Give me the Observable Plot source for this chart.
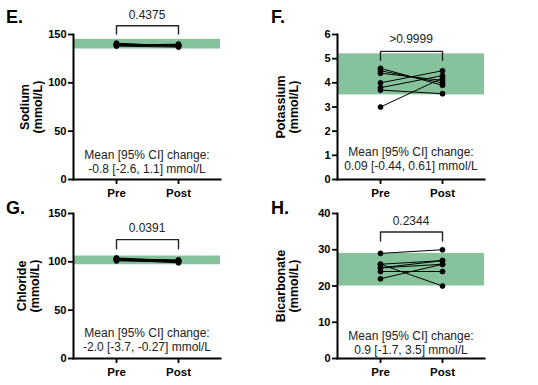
<!DOCTYPE html>
<html>
<head>
<meta charset="utf-8">
<script src="https://cdn.jsdelivr.net/npm/d3@7"></script>
<script src="https://cdn.jsdelivr.net/npm/@observablehq/plot@0.6"></script>
<style>
  html, body { margin: 0; padding: 0; background: #fff; }
  #root { position: relative; width: 538px; height: 385px; overflow: hidden; font-family: "Liberation Sans", Arial, sans-serif; }
  .panel { position: absolute; }
  .letter { position: absolute; font-weight: bold; font-size: 18px; font-family: "Liberation Sans", Arial, sans-serif; }
</style>
</head>
<body>
<div id="root"></div>
<script>
// ---- Data ----
const times = ["Pre", "Post"];

const sodiumPre  = [140, 139, 140, 139, 141, 138, 139];
const sodiumPost = [139, 139, 139, 140, 138, 137, 138];
const sodiumRange = [135, 145];
const sodiumTicks = [0, 50, 100, 150];

const potassiumPre  = [4.6, 4.5, 4.4, 4.0, 3.8, 3.7, 3.0];
const potassiumPost = [3.9, 4.0, 4.1, 4.5, 4.3, 3.55, 4.2];
const potassiumRange = [3.5, 5.2];
const potassiumTicks = [0, 1, 2, 3, 4, 5, 6];

const chloridePre  = [103, 102, 104, 103, 102, 103, 101];
const chloridePost = [101, 100, 101, 102, 99, 101, 100];
const chlorideRange = [97, 106];
const chlorideTicks = [0, 50, 100, 150];

const bicarbPre  = [29, 26, 26, 25, 25, 24, 22];
const bicarbPost = [30, 20, 27, 26, 27, 24, 26];
const bicarbRange = [20, 29];
const bicarbTicks = [0, 10, 20, 30, 40];

const pValues = ["0.4375", ">0.9999", "0.0391", "0.2344"];
const notes = [
  "Mean [95% CI] change:\n-0.8 [-2.6, 1.1] mmol/L",
  "Mean [95% CI] change:\n0.09 [-0.44, 0.61] mmol/L",
  "Mean [95% CI] change:\n-2.0 [-3.7, -0.27] mmol/L",
  "Mean [95% CI] change:\n0.9 [-1.7, 3.5] mmol/L"
];
const yTitles = ["Sodium\n(mmol/L)", "Potassium\n(mmol/L)", "Chloride\n(mmol/L)", "Bicarbonate\n(mmol/L)"];
const letters = ["E.", "F.", "G.", "H."];

// ---- Panel specs (layout) ----
const panels = [
  {pre: sodiumPre, post: sodiumPost, range: sodiumRange, ticks: sodiumTicks, max: 150, bracket: 159, leg: 150.5, pText: 169.5, noteDy: -7, left: 0, top: 0, titleDx: -42},
  {pre: potassiumPre, post: potassiumPost, range: potassiumRange, ticks: potassiumTicks, max: 6, bracket: 5.3, leg: 4.93, pText: 5.8, noteDy: -10, left: 264, top: 0, titleDx: -50},
  {pre: chloridePre, post: chloridePost, range: chlorideRange, ticks: chlorideTicks, max: 150, bracket: 123, leg: 113.5, pText: 135, noteDy: -8, left: 0, top: 179, titleDx: -45},
  {pre: bicarbPre, post: bicarbPost, range: bicarbRange, ticks: bicarbTicks, max: 40, bracket: 34.9, leg: 32.4, pText: 38, noteDy: -5, left: 264, top: 179, titleDx: -50}
];

const root = document.getElementById("root");
const letterPos = [[6, 7], [271, 7], [6, 198], [271, 198]];

panels.forEach((p, i) => {
  const rows = [];
  p.pre.forEach((v, k) => { rows.push({id: k, t: times[0], v}); rows.push({id: k, t: times[1], v: p.post[k]}); });
  const bracket = [
    {t: times[0], v: p.leg}, {t: times[0], v: p.bracket},
    {t: times[1], v: p.bracket}, {t: times[1], v: p.leg}
  ];
  const chart = Plot.plot({
    width: 230,
    height: 200,
    marginTop: 34,
    marginBottom: 21,
    marginLeft: 73,
    marginRight: 10,
    style: {fontFamily: "'Liberation Sans', Arial, sans-serif", overflow: "visible", background: "transparent"},
    x: {type: "point", domain: times, padding: 0.667},
    y: {domain: [0, p.max]},
    marks: [
      Plot.rect([p.range], {y1: d => d[0], y2: d => d[1], fill: "#86c29b"}),
      Plot.line(rows, {x: "t", y: "v", z: "id", stroke: "black", strokeWidth: 1}),
      Plot.dot(rows, {x: "t", y: "v", r: 2.6, fill: "black", stroke: "black", strokeWidth: 0.5}),
      Plot.line(bracket, {x: "t", y: "v", stroke: "#222", strokeWidth: 1.4, clip: false}),
      Plot.text([pValues[i]], {y: () => p.pText, text: d => d, fontSize: 12, fill: "#222", clip: false}),
      Plot.text([notes[i]], {frameAnchor: "bottom", lineAnchor: "bottom", dy: p.noteDy, text: d => d, fontSize: 12, lineHeight: 1.1, fill: "#222"}),
      Plot.text([yTitles[i]], {frameAnchor: "left", textAnchor: "middle", lineAnchor: "middle", rotate: -90, dx: p.titleDx, text: d => d, fontSize: 12.5, fontWeight: "bold", lineHeight: 1.0, fill: "black"}),
      Plot.axisY({ticks: p.ticks, tickFormat: d3.format("d"), tickSize: 5, tickPadding: 2, fontSize: 11, fontWeight: "bold", strokeWidth: 1.8, label: null, fill: "black"}),
      Plot.axisX({tickSize: 5, tickPadding: 4, fontSize: 11.5, fontWeight: "bold", strokeWidth: 1.8, label: null, fill: "black"}),
      Plot.frame({anchor: "left", strokeWidth: 2}),
      Plot.frame({anchor: "bottom", strokeWidth: 2})
    ]
  });
  const div = document.createElement("div");
  div.className = "panel";
  div.style.left = p.left + "px";
  div.style.top = p.top + "px";
  div.appendChild(chart);
  root.appendChild(div);

  const lab = document.createElement("div");
  lab.className = "letter";
  lab.style.left = letterPos[i][0] + "px";
  lab.style.top = letterPos[i][1] + "px";
  lab.textContent = letters[i];
  root.appendChild(lab);
});
</script>
</body>
</html>
